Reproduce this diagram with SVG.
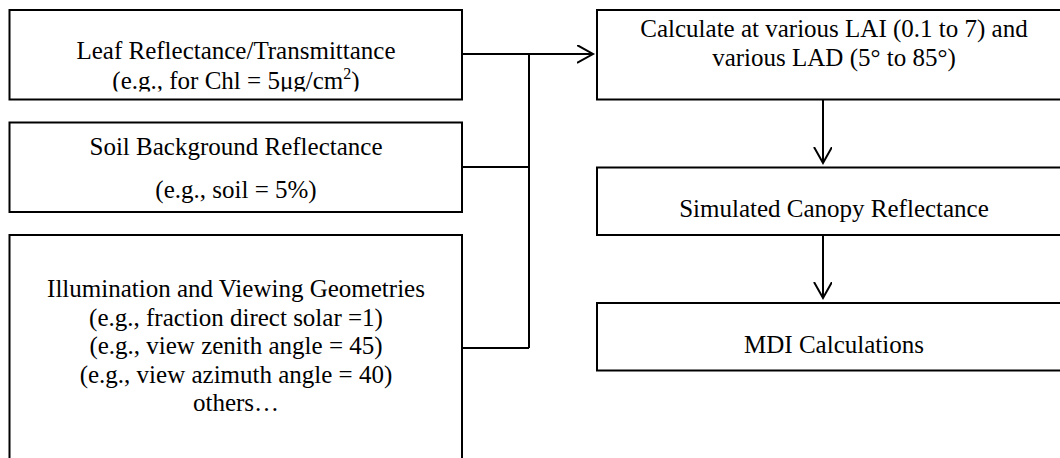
<svg xmlns="http://www.w3.org/2000/svg" width="1060" height="458" viewBox="0 0 1060 458">
<style>
.box{fill:#fff;stroke:#000;stroke-width:2}
.t{font-family:"Liberation Serif","Times New Roman",serif;font-size:25px;fill:#000;text-anchor:middle}
.c{fill:none;stroke:#000;stroke-width:2}
</style>
<defs>
<marker id="arr" markerWidth="20" markerHeight="20" refX="16" refY="9" orient="auto" markerUnits="userSpaceOnUse">
<path d="M0,0 L16,9 L0,18" fill="none" stroke="#000" stroke-width="2"/>
</marker>
<clipPath id="clip1"><rect x="0" y="0" width="470" height="91.5"/></clipPath>
</defs>
<rect width="1060" height="458" fill="#fff"/>
<g id="leaf">
<rect class="box" x="9.5" y="10" width="452.5" height="89.5"/>
<text class="t" x="236" y="59">Leaf Reflectance/Transmittance</text>
<text class="t" x="236" y="89" clip-path="url(#clip1)">(e.g., for Chl = 5μg/cm<tspan font-size="16" dy="-10">2</tspan><tspan dy="10">)</tspan></text>
</g>
<g id="soil">
<rect class="box" x="9.5" y="122.5" width="452.5" height="89.5"/>
<text class="t" x="236" y="155">Soil Background Reflectance</text>
<text class="t" x="236" y="198">(e.g., soil = 5%)</text>
</g>
<g id="geom">
<rect class="box" x="9.5" y="235" width="452.5" height="240"/>
<text class="t" x="236" y="297">Illumination and Viewing Geometries</text>
<text class="t" x="236" y="325.5">(e.g., fraction direct solar =1)</text>
<text class="t" x="236" y="354">(e.g., view zenith angle = 45)</text>
<text class="t" x="236" y="382.5">(e.g., view azimuth angle = 40)</text>
<text class="t" x="236" y="411">others…</text>
</g>
<g id="calc">
<rect class="box" x="597" y="10" width="474" height="89.5"/>
<text class="t" x="834" y="37">Calculate at various LAI (0.1 to 7) and</text>
<text class="t" x="834" y="66">various LAD (5° to 85°)</text>
</g>
<g id="canopy">
<rect class="box" x="597" y="167.5" width="474" height="67.5"/>
<text class="t" x="834" y="217">Simulated Canopy Reflectance</text>
</g>
<g id="mdi">
<rect class="box" x="597" y="303" width="474" height="67.5"/>
<text class="t" x="834" y="353">MDI Calculations</text>
</g>
<g id="connectors">
<path class="c" d="M462,54 H593" marker-end="url(#arr)"/>
<path class="c" d="M529,54 V348"/>
<path class="c" d="M462,167 H529"/>
<path class="c" d="M462,348 H529"/>
<path class="c" d="M823,99.5 V163" marker-end="url(#arr)"/>
<path class="c" d="M823,235 V298" marker-end="url(#arr)"/>
</g>
</svg>
